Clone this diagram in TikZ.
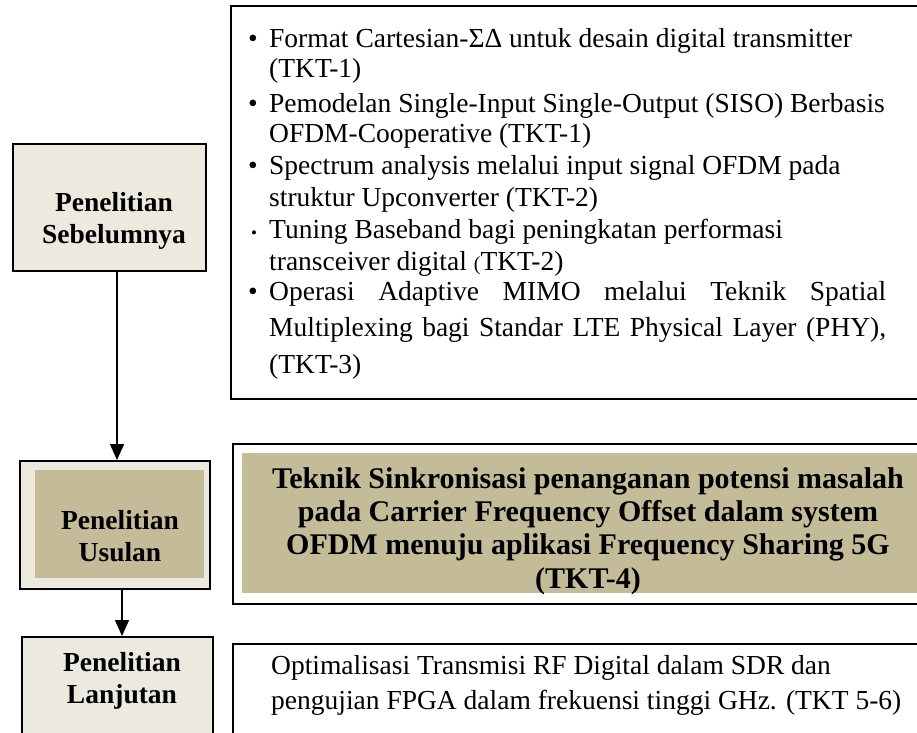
\documentclass[tikz,border=0pt]{standalone}
\usepackage{fontspec}
\setmainfont{Liberation Serif}
\usetikzlibrary{arrows.meta}
\definecolor{beige}{HTML}{ECE9DF}
\definecolor{tanfill}{HTML}{C4BC99}
\begin{document}
\begin{tikzpicture}[x=1pt,y=-1pt,
  box/.style={draw=black,line width=1.6pt,rectangle,inner sep=0pt,anchor=north west},
  lbl/.style={font=\fontsize{27.5}{32}\selectfont\bfseries,align=center,inner sep=0pt},
  item/.style={anchor=base west,align=left,inner sep=0pt},
  arr/.style={line width=1.4pt,-{Triangle[width=14pt,length=16pt]}}]
\path[use as bounding box,clip] (0,0) rectangle (917,732);
\fill[white] (0,0) rectangle (917,732);

% right boxes
\node[box,fill=white,minimum width=700pt,minimum height=393pt] (list) at (230,5) {};
\node[box,fill=white,minimum width=700pt,minimum height=160pt] (prop) at (232,443) {};
\node[inner sep=0pt,anchor=north west,fill=tanfill,minimum width=690pt,minimum height=140pt] (propin) at (242,453) {};
\node[box,fill=white,minimum width=700pt,minimum height=110pt] (next) at (232,643) {};

% left boxes
\node[box,fill=beige,minimum width=193pt,minimum height=127pt] (sebel) at (12,143) {};
\node[box,fill=beige,minimum width=190pt,minimum height=128pt] (usul) at (19,460) {};
\node[inner sep=0pt,anchor=north west,fill=tanfill,minimum width=169pt,minimum height=108pt] (usulin) at (35,470) {};
\node[box,fill=beige,minimum width=191pt,minimum height=110pt] (lanjut) at (21,636) {};

\node[lbl] (sebelT) at (114,221) {Penelitian\\Sebelumnya};
\node[lbl] (usulT) at (120,536) {Penelitian\\Usulan};
\node[lbl] (lanjutT) at (122,681) {Penelitian\\Lanjutan};

% arrows
\draw[arr] (sebel.south -| 117,0) -- (usul.north -| 117,0);
\draw[arr] (usul.south -| 122,0) -- (lanjut.north -| 122,0);

% bullet list (anchor = baseline of last line)
\node[item,font=\fontsize{27.5}{30}\selectfont] (i1) at (248,77)
  {\makebox[21pt][l]{•}Format Cartesian-ΣΔ untuk desain digital transmitter\\\hspace*{21pt}(TKT-1)};
\node[item,font=\fontsize{27.5}{30}\selectfont] (i2) at (248,142)
  {\makebox[21pt][l]{•}Pemodelan Single-Input Single-Output (SISO) Berbasis\\\hspace*{21pt}OFDM-Cooperative (TKT-1)};
\node[item,font=\fontsize{27.5}{32}\selectfont] (i3) at (248,206)
  {\makebox[21pt][l]{•}Spectrum analysis melalui input signal OFDM pada\\\hspace*{21pt}struktur Upconverter (TKT-2)};
\node[item,font=\fontsize{27.5}{32}\selectfont] (i4) at (248,270)
  {\makebox[21pt][l]{\fontsize{17}{17}\selectfont\,•}Tuning Baseband bagi peningkatan performasi\\\hspace*{21pt}transceiver digital {\fontsize{20}{20}\selectfont(}TKT-2)};
\node[item,font=\fontsize{27.5}{36.5}\selectfont] (i5) at (248,373)
  {\makebox[21pt][l]{•}\makebox[617pt][s]{Operasi Adaptive MIMO melalui Teknik Spatial}\\\hspace*{21pt}\makebox[617pt][s]{Multiplexing bagi Standar LTE Physical Layer (PHY),}\\\hspace*{21pt}(TKT-3)};

% proposed research text
\node[font=\fontsize{30}{33.3}\selectfont\bfseries,align=center,inner sep=0pt] (propT) at (588,531)
  {Teknik Sinkronisasi penanganan potensi masalah\\pada Carrier Frequency Offset dalam system\\OFDM menuju aplikasi Frequency Sharing 5G\\(TKT-4)};

% further research text
\node[item,font=\fontsize{27.5}{35}\selectfont] (nextT) at (271,709)
  {Optimalisasi Transmisi RF Digital dalam SDR dan\\pengujian FPGA dalam frekuensi tinggi GHz. (TKT 5-6)};
\end{tikzpicture}
\end{document}
